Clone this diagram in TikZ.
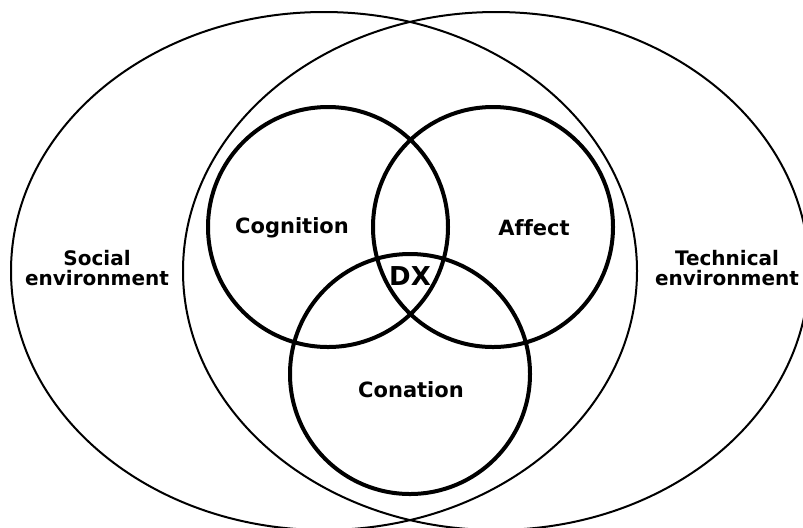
\documentclass[tikz,border=0pt]{standalone}
\usepackage{fontspec}
\setmainfont{DejaVu Sans}[Ligatures=CommonOff]
\usetikzlibrary{calc}

\tikzset{
 envline/.style={black, line width=1pt},
 facetline/.style={black, line width=2pt},
 facetlabel/.style={font=\fontsize{10.5}{12}\selectfont\bfseries, inner sep=0},
 envlabel/.style={font=\fontsize{10}{10}\selectfont\bfseries, align=center, inner sep=0},
}

\begin{document}
\begin{tikzpicture} [x=.5pt, y=-.5pt]
\useasboundingbox (0,0) rectangle (803,527);
\clip (0,0) rectangle (803,527);
\coordinate (social) at (324,271);
\coordinate (technical) at (496,271);
\coordinate (cognition) at (328,227);
\coordinate (affect) at (493,227);
\coordinate (conation) at (410,374);
% environments
\draw[envline] (social) ellipse [x radius=313, y radius=259];
\draw[envline] (technical) ellipse [x radius=313, y radius=259];
% facets
\foreach \c in {cognition, affect, conation} {
 \draw[facetline] (\c) circle [radius=120];
}
\node[facetlabel] (cogText) at ($(cognition)+(-36,1)$) {Cognition};
\node[facetlabel] (affText) at ($(affect)+(41,1)$) {Affect};
\node[facetlabel] (conText) at ($(conation)+(1,16)$) {Conation};
\node[font=\fontsize{13}{13}\selectfont\bfseries, inner sep=0] (dxText) at (410,276) {DX};
\node[envlabel] (socText) at (97,268) {Social\\environment};
\node[envlabel] (tecText) at (727,268) {Technical\\environment};
\end{tikzpicture}
\end{document}
